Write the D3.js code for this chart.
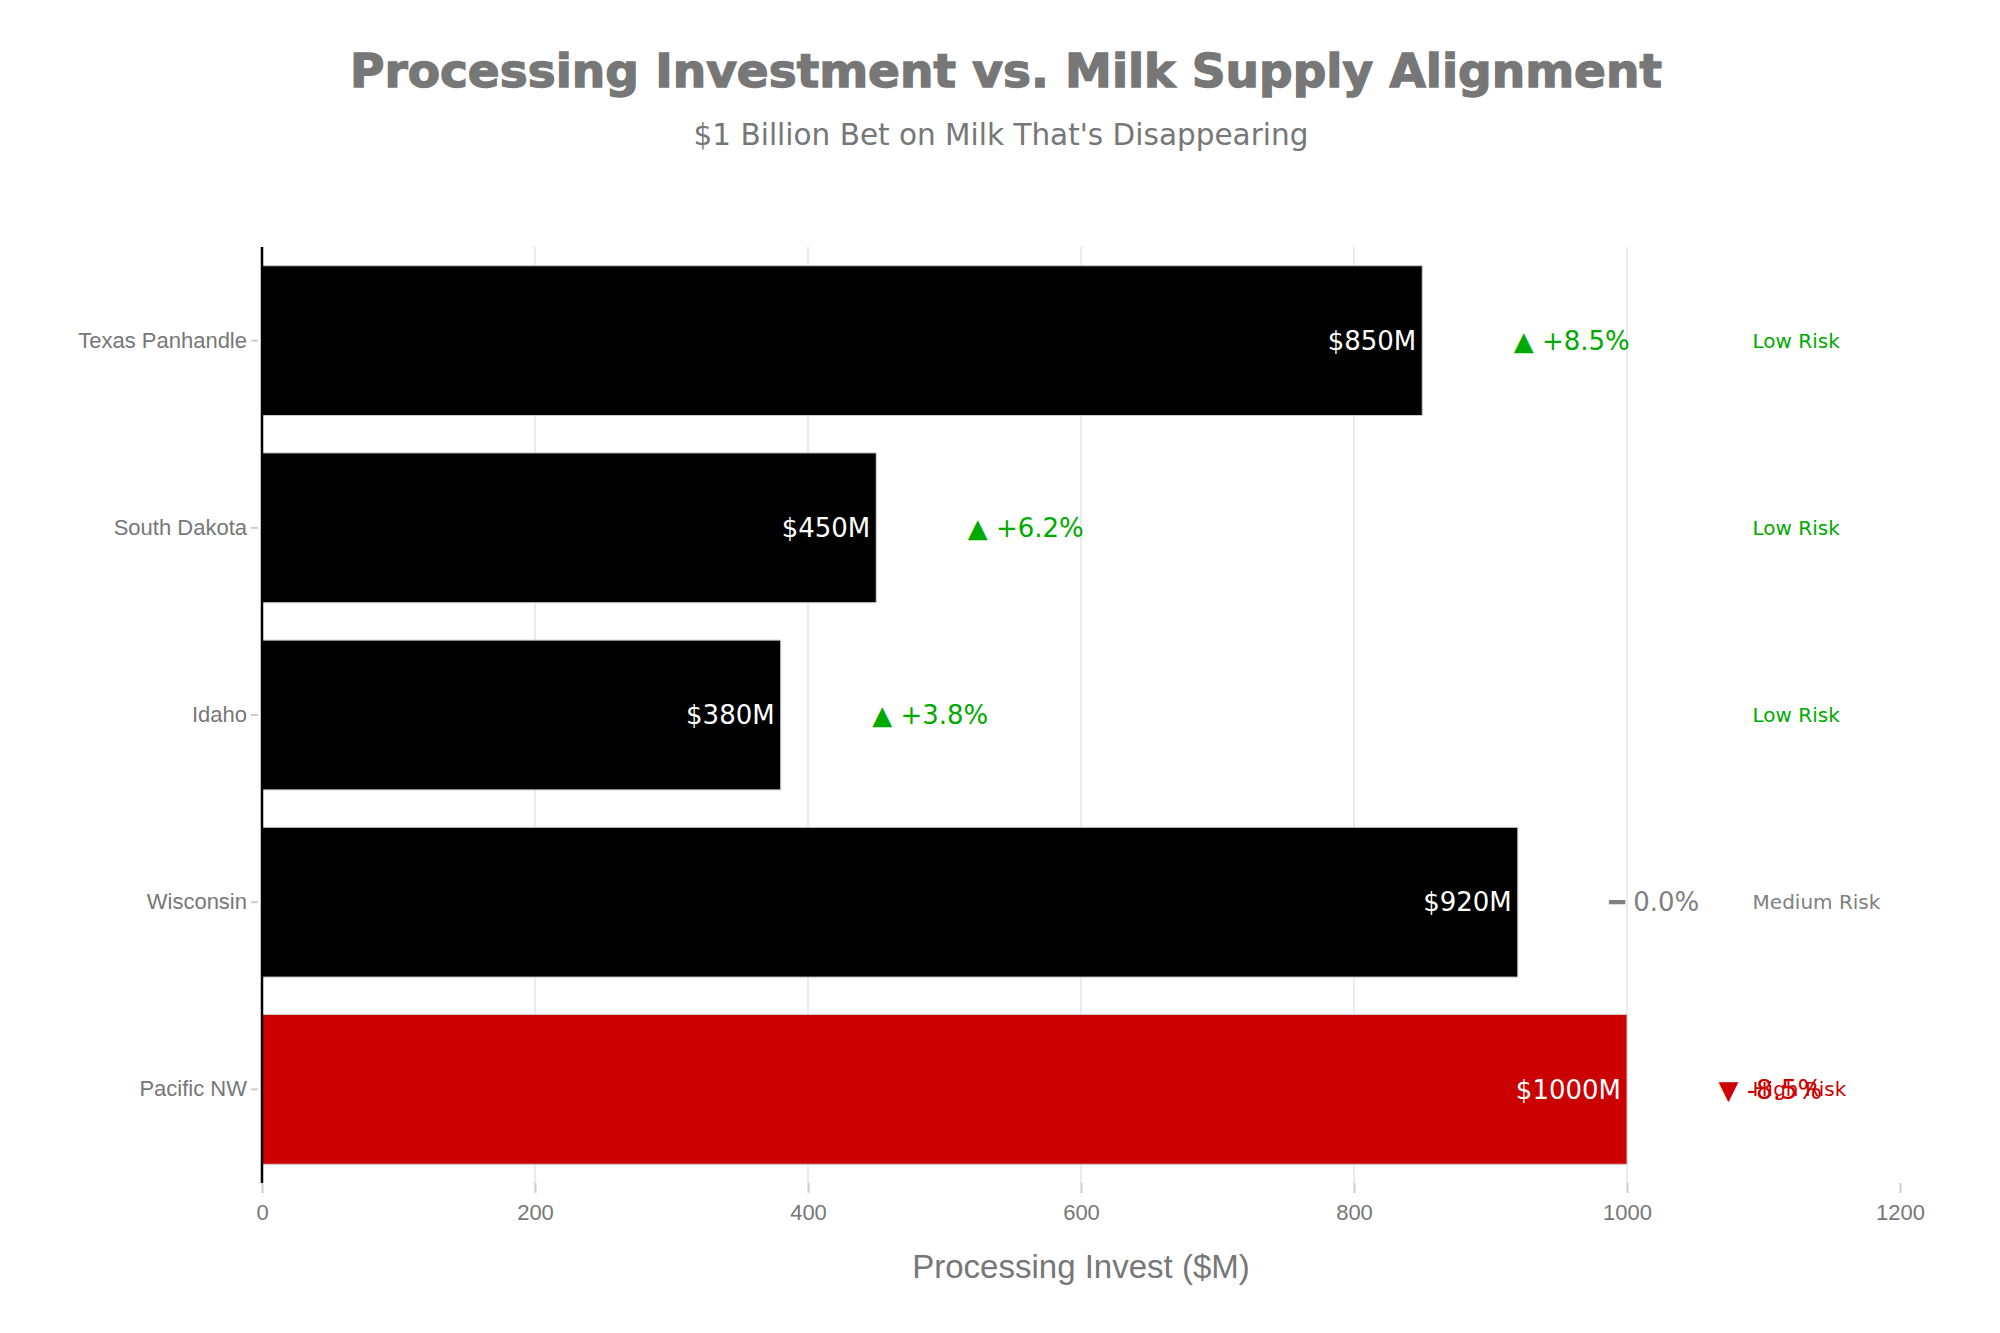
<!DOCTYPE html>
<html>
<head>
<meta charset="utf-8">
<script src="https://cdn.jsdelivr.net/npm/d3@7"></script>
<style>
  body { margin: 0; background: #fff; }
  svg { display: block; }
</style>
</head>
<body>
<div id="chart"></div>
<script>
// chart data
const regions = ['Texas Panhandle', 'South Dakota', 'Idaho', 'Wisconsin', 'Pacific NW'];
const investment = [850, 450, 380, 920, 1000];
const milkChange = [8.5, 6.2, 3.8, 0.0, -8.5];
const riskLevels = ['Low Risk', 'Low Risk', 'Low Risk', 'Medium Risk', 'High Risk'];
const xTicks = [0, 200, 400, 600, 800, 1000, 1200];

const width = 2000, height = 1333;
const margin = { top: 247, right: 100, bottom: 150, left: 262 };

const barColor = { 'Low Risk': '#000000', 'Medium Risk': '#000000', 'High Risk': '#cc0000' };
const riskColor = { 'Low Risk': '#00aa00', 'Medium Risk': '#808080', 'High Risk': '#cc0000' };

function changeColor(v) {
    if (v > 0) return '#00aa00';
    if (v < 0) return '#cc0000';
    return '#808080';
}

function changeText(v) {
    if (v > 0) return `▲ +${v.toFixed(1)}%`;
    if (v < 0) return `▼ ${v.toFixed(1)}%`;
    return `━ ${v.toFixed(1)}%`;
}

const rows = regions.map((r, i) => ({
    region: r,
    invest: investment[i],
    change: milkChange[i],
    risk: riskLevels[i]
}));

const svg = d3.select('#chart')
    .append('svg')
    .attr('width', width)
    .attr('height', height);

const x = d3.scaleLinear()
    .domain([0, 1200])
    .range([margin.left, width - margin.right]);

const y = d3.scaleBand()
    .domain(regions)
    .range([margin.top, height - margin.bottom])
    .paddingInner(0.2)
    .paddingOuter(0.1);

const plotBottom = height - margin.bottom;
const sansFont = 'Helvetica, Arial, "Liberation Sans", sans-serif';
const labelFont = '"DejaVu Sans", Verdana, sans-serif';

// gridlines
svg.append('g')
    .selectAll('line')
    .data(xTicks.filter(t => t > 0 && t < 1200))
    .join('line')
    .attr('x1', d => x(d))
    .attr('x2', d => x(d))
    .attr('y1', margin.top)
    .attr('y2', plotBottom)
    .attr('stroke', '#ebebeb')
    .attr('stroke-width', 2);

// x axis (ticks + labels only)
const xAxis = svg.append('g')
    .attr('transform', `translate(0,${plotBottom})`)
    .call(d3.axisBottom(x).tickValues(xTicks).tickSize(10).tickPadding(11).tickFormat(d3.format('d')));
xAxis.select('.domain').remove();
xAxis.selectAll('.tick line').attr('stroke', '#cccccc').attr('stroke-width', 2);
xAxis.selectAll('.tick text')
    .attr('fill', '#777')
    .style('font-family', sansFont)
    .style('font-size', '22px');

// bars
svg.append('g')
    .selectAll('rect')
    .data(rows)
    .join('rect')
    .attr('x', x(0))
    .attr('y', d => y(d.region))
    .attr('width', d => x(d.invest) - x(0))
    .attr('height', y.bandwidth())
    .attr('fill', d => barColor[d.risk])
    .attr('stroke', '#cccccc')
    .attr('stroke-width', 1);

// y axis
const yAxis = svg.append('g')
    .attr('transform', `translate(${x(0)},0)`)
    .call(d3.axisLeft(y).tickSize(0).tickPadding(15));
yAxis.select('.domain').remove();
yAxis.selectAll('.tick text')
    .attr('fill', '#777')
    .style('font-family', sansFont)
    .style('font-size', '22px');
yAxis.selectAll('.tick')
    .append('line')
    .attr('x1', -11)
    .attr('x2', -4)
    .attr('stroke', '#cccccc')
    .attr('stroke-width', 2);

svg.append('line')
    .attr('x1', x(0))
    .attr('x2', x(0))
    .attr('y1', margin.top)
    .attr('y2', plotBottom)
    .attr('stroke', '#000')
    .attr('stroke-width', 2.5);

// value labels inside bars
svg.append('g')
    .selectAll('text')
    .data(rows)
    .join('text')
    .attr('x', d => x(d.invest) - 6)
    .attr('y', d => y(d.region) + y.bandwidth() / 2)
    .attr('dy', '0.35em')
    .attr('text-anchor', 'end')
    .attr('fill', '#fff')
    .style('font-family', labelFont)
    .style('font-size', '26px')
    .text(d => `$${d.invest}M`);

// milk supply change
svg.append('g')
    .selectAll('text')
    .data(rows)
    .join('text')
    .attr('x', d => x(d.invest + 67))
    .attr('y', d => y(d.region) + y.bandwidth() / 2)
    .attr('dy', '0.35em')
    .attr('fill', d => changeColor(d.change))
    .style('font-family', labelFont)
    .style('font-size', '26px')
    .text(d => changeText(d.change));

// risk labels
svg.append('g')
    .selectAll('text')
    .data(rows)
    .join('text')
    .attr('x', x(1092))
    .attr('y', d => y(d.region) + y.bandwidth() / 2)
    .attr('dy', '0.35em')
    .attr('fill', d => riskColor[d.risk])
    .style('font-family', labelFont)
    .style('font-size', '20px')
    .text(d => d.risk);

// titles
svg.append('text')
    .attr('x', 1006)
    .attr('y', 87)
    .attr('text-anchor', 'middle')
    .attr('fill', '#777')
    .attr('stroke', '#777')
    .attr('stroke-width', 1.4)
    .style('font-family', labelFont)
    .style('font-weight', 'bold')
    .style('font-size', '47px')
    .text('Processing Investment vs. Milk Supply Alignment');

svg.append('text')
    .attr('x', 1001)
    .attr('y', 145)
    .attr('text-anchor', 'middle')
    .attr('fill', '#777')
    .style('font-family', labelFont)
    .style('font-size', '29.5px')
    .text("$1 Billion Bet on Milk That's Disappearing");

svg.append('text')
    .attr('x', (x(0) + x(1200)) / 2)
    .attr('y', 1278)
    .attr('text-anchor', 'middle')
    .attr('fill', '#777')
    .style('font-family', sansFont)
    .style('font-size', '33px')
    .text('Processing Invest ($M)');
</script>
</body>
</html>
